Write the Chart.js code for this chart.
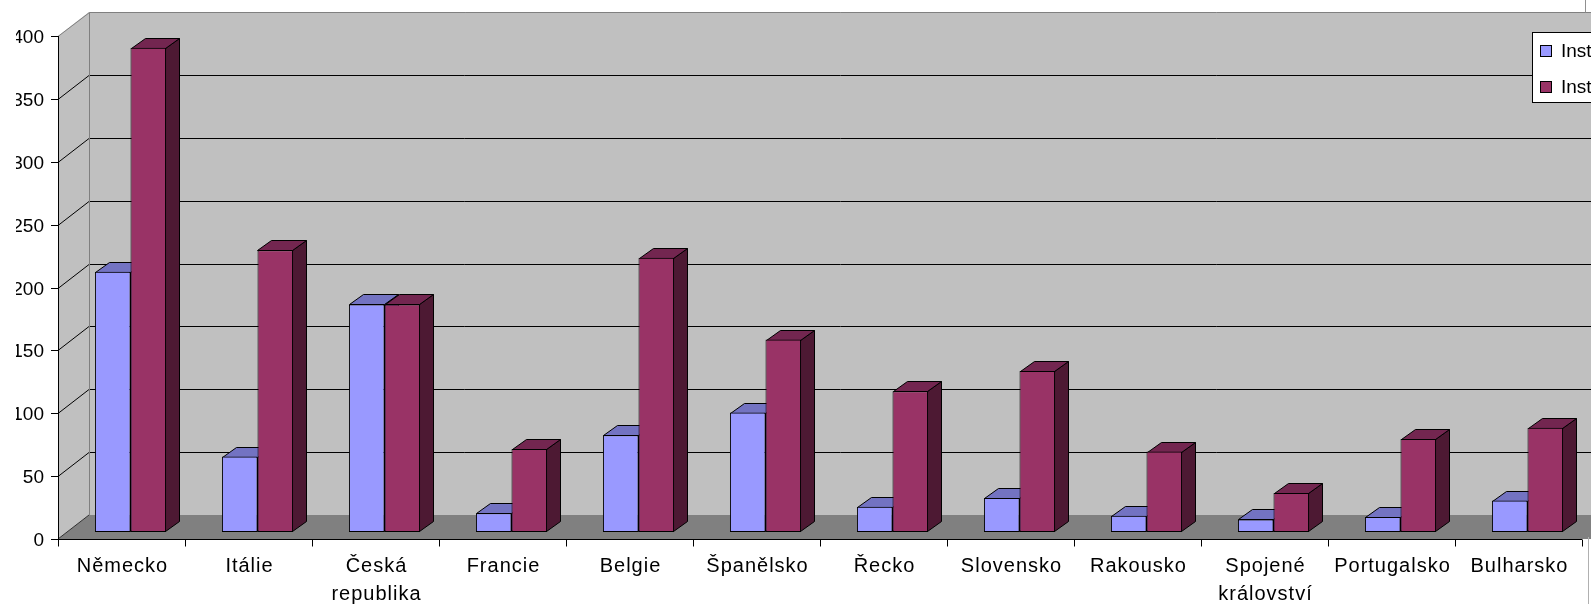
<!DOCTYPE html>
<html>
<head>
<meta charset="utf-8">
<title>Instalovaný výkon</title>
<script src="https://cdn.jsdelivr.net/npm/chart.js"></script>
<style>
  html, body { margin: 0; padding: 0; background: #fff; overflow: hidden; }
  #chart { display: block; }
</style>
</head>
<body>
<canvas id="chart" width="1591" height="604"></canvas>
<script>
// data
const countries = [
  "Německo", "Itálie", ["Česká", "republika"], "Francie", "Belgie", "Španělsko",
  "Řecko", "Slovensko", "Rakousko", ["Spojené", "království"], "Portugalsko", "Bulharsko"
];
const seriesA = [207, 60, 181, 15, 77, 95, 20, 27, 13, 10, 12, 25];
const seriesB = [385, 224, 181, 66, 218, 153, 112, 128, 64, 31, 74, 83];
const seriesNames = ["Instalovaný výkon 2009", "Instalovaný výkon 2010"];
const yTicks = [0, 50, 100, 150, 200, 250, 300, 350, 400];

// look of the old 3D excel chart
const wallDx = 31, wallDy = 24;   // depth of side wall / floor
const barDx = 9, barDy = 7;       // bars sit a bit back in the floor
const faceDx = 14, faceDy = 10;   // depth of each bar
const faceColors = [
  { top: "#7373c2", side: "#4d4d80" },
  { top: "#732650", side: "#4d1933" }
];

const excel3d = {
  id: "excel3d",
  beforeDraw(chart) {
    const ctx = chart.ctx;
    const area = chart.chartArea;
    const y = chart.scales.y;
    const x = chart.scales.x;
    const right = chart.width + wallDx;

    ctx.save();
    ctx.fillStyle = "#fff";
    ctx.fillRect(0, 0, chart.width, chart.height);

    const top = y.getPixelForValue(yTicks[yTicks.length - 1]);
    const bottom = y.getPixelForValue(0);

    // side wall
    ctx.fillStyle = "#c0c0c0";
    ctx.beginPath();
    ctx.moveTo(area.left, top);
    ctx.lineTo(area.left + wallDx, top - wallDy);
    ctx.lineTo(area.left + wallDx, bottom - wallDy);
    ctx.lineTo(area.left, bottom);
    ctx.closePath();
    ctx.fill();
    // back wall
    ctx.fillRect(area.left + wallDx, top - wallDy, right, bottom - top);
    // floor
    ctx.fillStyle = "#808080";
    ctx.beginPath();
    ctx.moveTo(area.left, bottom);
    ctx.lineTo(area.left + wallDx, bottom - wallDy);
    ctx.lineTo(right, bottom - wallDy);
    ctx.lineTo(right - wallDx, bottom);
    ctx.closePath();
    ctx.fill();

    // gridlines
    ctx.lineWidth = 1;
    ctx.strokeStyle = "#000";
    yTicks.slice(1, -1).forEach(v => {
      const py = Math.round(y.getPixelForValue(v)) + 0.5;
      ctx.beginPath();
      ctx.moveTo(area.left, py);
      ctx.lineTo(area.left + wallDx, py - wallDy);
      ctx.lineTo(right, py - wallDy);
      ctx.stroke();
    });

    // wall edges
    ctx.strokeStyle = "#808080";
    ctx.beginPath();
    const ty = Math.round(top) + 0.5;
    ctx.moveTo(area.left, ty);
    ctx.lineTo(area.left + wallDx + 0.5, ty - wallDy);
    ctx.lineTo(right, ty - wallDy);
    ctx.moveTo(area.left + wallDx + 0.5, ty - wallDy);
    ctx.lineTo(area.left + wallDx + 0.5, bottom - wallDy);
    ctx.stroke();
    ctx.strokeStyle = "#303030";
    ctx.beginPath();
    ctx.moveTo(area.left, bottom);
    ctx.lineTo(area.left + wallDx, bottom - wallDy);
    ctx.stroke();

    // chart border bits on the right
    ctx.strokeStyle = "#909090";
    ctx.beginPath();
    ctx.moveTo(1585.5, 0);
    ctx.lineTo(1585.5, ty - wallDy);
    ctx.stroke();
    ctx.strokeStyle = "#b0b0b0";
    ctx.beginPath();
    ctx.moveTo(1588.5, bottom - 2);
    ctx.lineTo(1588.5, chart.height);
    ctx.stroke();

    // y axis
    ctx.strokeStyle = "#000";
    ctx.beginPath();
    ctx.moveTo(area.left + 0.5, top);
    ctx.lineTo(area.left + 0.5, bottom + 1);
    ctx.stroke();
    ctx.save();
    ctx.beginPath();
    ctx.rect(16, 0, chart.width, chart.height);
    ctx.clip();
    ctx.fillStyle = "#000";
    ctx.font = "19px 'Liberation Sans', Arial, sans-serif";
    ctx.textAlign = "right";
    ctx.textBaseline = "middle";
    yTicks.forEach(v => {
      const py = Math.round(y.getPixelForValue(v)) + 0.5;
      ctx.beginPath();
      ctx.moveTo(area.left - 7, py);
      ctx.lineTo(area.left, py);
      ctx.stroke();
      ctx.fillText(String(v), area.left - 14, py + 1);
    });
    ctx.restore();

    // x axis
    const by = Math.round(bottom) + 0.5;
    ctx.beginPath();
    ctx.moveTo(area.left, by);
    ctx.lineTo(area.right, by);
    const step = x.getPixelForValue(1) - x.getPixelForValue(0);
    for (let i = 0; i <= countries.length; i++) {
      const px = Math.round(x.getPixelForValue(i) - step / 2) + 0.5;
      ctx.moveTo(px, by);
      ctx.lineTo(px, by + 7);
    }
    ctx.stroke();

    ctx.fillStyle = "#000";
    ctx.font = "20px 'Liberation Sans', Arial, sans-serif";
    ctx.letterSpacing = "1px";
    ctx.textAlign = "center";
    ctx.textBaseline = "middle";
    countries.forEach((c, i) => {
      const lines = Array.isArray(c) ? c : [c];
      lines.forEach((t, j) => {
        ctx.fillText(t, x.getPixelForValue(i) + 1, bottom + 27 + j * 28);
      });
    });
    ctx.restore();
  },
  beforeDatasetsDraw(chart) {
    const ctx = chart.ctx;
    ctx.save();
    ctx.translate(barDx, -barDy);
    ctx.lineWidth = 1;
    ctx.strokeStyle = "#000";
    chart.data.datasets.forEach((ds, d) => {
      const meta = chart.getDatasetMeta(d);
      meta.data.forEach(el => {
        const p = el.getProps(["x", "y", "base", "width"], true);
        const l = Math.round(p.x - p.width / 2) + 0.5;
        const r = Math.round(p.x + p.width / 2) - 0.5;
        const t = Math.round(p.y) + 0.5;
        const b = Math.round(p.base) - 0.5;
        // side
        ctx.fillStyle = faceColors[d].side;
        ctx.beginPath();
        ctx.moveTo(r, t);
        ctx.lineTo(r + faceDx, t - faceDy);
        ctx.lineTo(r + faceDx, b - faceDy);
        ctx.lineTo(r, b);
        ctx.closePath();
        ctx.fill();
        ctx.stroke();
        // top
        ctx.fillStyle = faceColors[d].top;
        ctx.beginPath();
        ctx.moveTo(l, t);
        ctx.lineTo(l + faceDx, t - faceDy);
        ctx.lineTo(r + faceDx, t - faceDy);
        ctx.lineTo(r, t);
        ctx.closePath();
        ctx.fill();
        ctx.stroke();
      });
    });
  },
  afterDatasetsDraw(chart) {
    chart.ctx.restore();
  },
  afterDraw(chart) {
    // legend box, cut off by the right edge like the original
    const ctx = chart.ctx;
    ctx.save();
    ctx.fillStyle = "#fff";
    ctx.strokeStyle = "#000";
    ctx.lineWidth = 1;
    ctx.fillRect(1532, 32, 80, 70);
    ctx.strokeRect(1532.5, 32.5, 80, 70);
    ctx.font = "19px 'Liberation Sans', Arial, sans-serif";
    ctx.textBaseline = "middle";
    chart.data.datasets.forEach((ds, i) => {
      const cy = 51 + i * 36;
      ctx.fillStyle = ds.backgroundColor;
      ctx.fillRect(1540.5, cy - 5.5, 11, 11);
      ctx.strokeRect(1540.5, cy - 5.5, 11, 11);
      ctx.fillStyle = "#000";
      ctx.fillText(ds.label, 1561, cy + 1);
    });
    ctx.restore();
  }
};

new Chart(document.getElementById("chart"), {
  type: "bar",
  data: {
    labels: countries,
    datasets: [
      {
        label: seriesNames[0],
        data: seriesA,
        backgroundColor: "#9999ff",
        borderColor: "#000",
        borderWidth: 1,
        borderSkipped: false,
        clip: false
      },
      {
        label: seriesNames[1],
        data: seriesB,
        backgroundColor: "#993366",
        borderColor: "#000",
        borderWidth: 1,
        borderSkipped: false,
        clip: false
      }
    ]
  },
  options: {
    responsive: false,
    animation: false,
    devicePixelRatio: 1,
    layout: { padding: { left: 58, right: 9, top: 36, bottom: 65 } },
    categoryPercentage: 0.56,
    barPercentage: 1,
    plugins: { legend: { display: false }, tooltip: { enabled: false } },
    scales: {
      x: { display: false, offset: true },
      y: { display: false, min: 0, max: 400 }
    }
  },
  plugins: [excel3d]
});
</script>
</body>
</html>
